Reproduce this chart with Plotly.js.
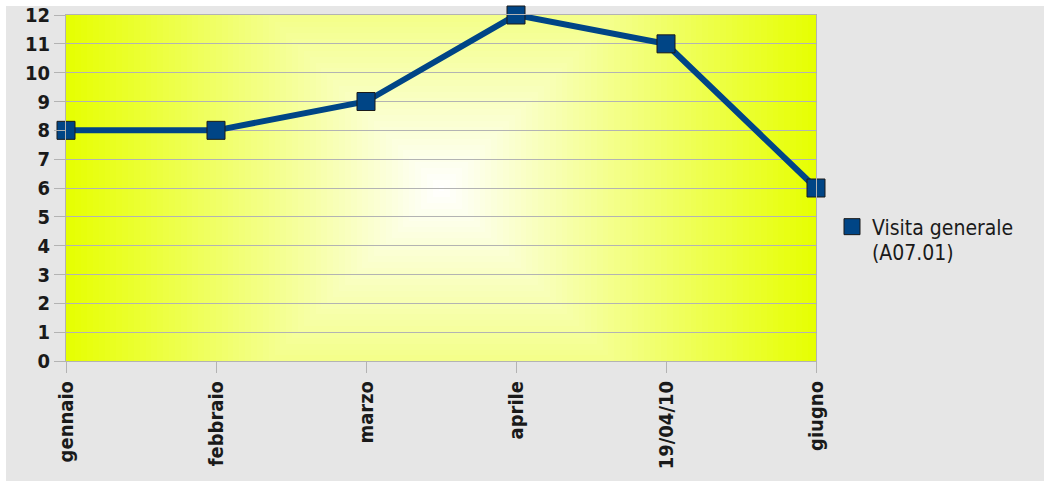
<!DOCTYPE html>
<html>
<head>
<meta charset="utf-8">
<script src="https://cdn.plot.ly/plotly-3.0.1.min.js"></script>
<style>
html,body{margin:0;padding:0;background:#ffffff;}
#wrap{position:relative;width:1044px;height:481px;}
#bg{position:absolute;left:6px;top:6px;right:0;bottom:0;background:#e6e6e6;}
#chart{position:absolute;left:0;top:0;width:1044px;height:481px;}
</style>
</head>
<body>
<div id="wrap"><div id="bg"></div><div id="chart"></div></div>
<script>
const categories = ["gennaio", "febbraio", "marzo", "aprile", "19/04/10", "giugno"];
const seriesName = "Visita generale";
const seriesCode = "(A07.01)";
const values = [8, 8, 9, 12, 11, 6];
const yTicks = [0,1,2,3,4,5,6,7,8,9,10,11,12];

const W = 1044, H = 481;
const mL = 66, mR = 228, mT = 15, mB = 120;
const pw = W - mL - mR, ph = H - mT - mB;

function makeGradient() {
  const c = document.createElement('canvas');
  c.width = pw; c.height = ph;
  const ctx = c.getContext('2d');
  const img = ctx.createImageData(pw, ph);
  const cx = pw / 2, cy = ph / 2;
  const R = pw / 2;
  const edge = [230, 255, 0];
  for (let y = 0; y < ph; y++) {
    for (let x = 0; x < pw; x++) {
      const d = Math.max(Math.abs(x - cx), Math.abs(y - cy));
      let t = Math.min(1, d / R);
      t = Math.round(t * 64) / 64;
      const i = (y * pw + x) * 4;
      img.data[i] = Math.round(255 + (edge[0] - 255) * t);
      img.data[i+1] = Math.round(255 + (edge[1] - 255) * t);
      img.data[i+2] = Math.round(255 + (edge[2] - 255) * t);
      img.data[i+3] = 255;
    }
  }
  ctx.putImageData(img, 0, 0);
  return c.toDataURL('image/png');
}

const xIdx = categories.map((_, i) => i);
const tickFont = {family: 'DejaVu Sans Condensed, DejaVu Sans', size: 20, color: '#1a1a1a', weight: 'bold'};
const legendFont = {family: 'DejaVu Sans Condensed, DejaVu Sans', size: 21, color: '#1a1a1a'};

const traces = [
  {
    x: xIdx, y: values, type: 'scatter', mode: 'lines+markers',
    line: {color: '#004586', width: 6},
    marker: {symbol: 'square', size: 18, color: '#004586', line: {color: '#1a1a1a', width: 1}},
    cliponaxis: false, showlegend: false, hoverinfo: 'skip'
  },
  {
    x: [null], y: [null], type: 'scatter', mode: 'markers', name: seriesName,
    marker: {symbol: 'square', size: 18, color: '#004586', line: {color: '#1a1a1a', width: 1}},
    showlegend: true
  }
];

const layout = {
  width: W, height: H,
  margin: {l: mL, r: mR, t: mT, b: mB, pad: 0},
  paper_bgcolor: 'rgba(0,0,0,0)',
  plot_bgcolor: 'rgba(0,0,0,0)',
  showlegend: true,
  legend: {
    x: 1 + (832 - 816) / pw, y: (361 - 227) / ph, xanchor: 'left', yanchor: 'middle',
    bgcolor: 'rgba(0,0,0,0)', font: legendFont, itemsizing: 'trace'
  },
  annotations: [
    {text: seriesCode, xref: 'paper', yref: 'paper', x: 1 + (871 - 816) / pw, y: (361 - 253) / ph,
     xanchor: 'left', yanchor: 'middle', showarrow: false, font: legendFont, borderpad: 0}
  ],
  xaxis: {
    range: [0, 5], tickmode: 'array', tickvals: xIdx, ticktext: categories,
    tickangle: -90, ticks: 'outside', ticklen: 11, tickcolor: '#b3b3b3', tickwidth: 1,
    showgrid: false, zeroline: false, showline: true, linecolor: '#b3b3b3', linewidth: 1, mirror: true,
    tickfont: tickFont, fixedrange: true
  },
  yaxis: {
    range: [0, 12], tickmode: 'array', tickvals: yTicks,
    ticks: 'outside', ticklen: 11, tickcolor: '#b3b3b3', tickwidth: 1,
    showgrid: true, gridcolor: '#b3b3b3', gridwidth: 1, zeroline: false,
    showline: true, linecolor: '#b3b3b3', linewidth: 1, mirror: true,
    tickfont: tickFont, fixedrange: true
  },
  images: [
    {source: makeGradient(), xref: 'paper', yref: 'paper', x: 0, y: 1, sizex: 1, sizey: 1,
     xanchor: 'left', yanchor: 'top', sizing: 'stretch', layer: 'below'}
  ]
};

Plotly.newPlot('chart', traces, layout, {displayModeBar: false, staticPlot: true});
</script>
</body>
</html>
